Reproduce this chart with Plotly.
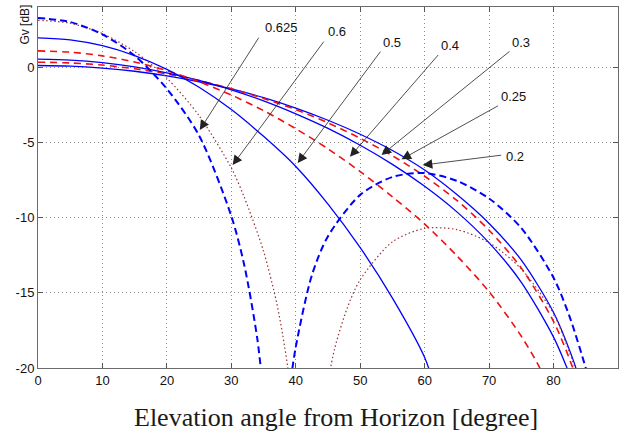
import plotly.graph_objects as go

# Elevation angle samples (deg) and gain values (dB) for each height ratio
ang_0625_a = [0, 5, 10, 15, 20, 25, 30, 32, 34, 35]
gv_0625_a = [3.27, 3.00, 2.18, 0.76, -1.44, -4.55, -9.90, -13.15, -17.97, -21.8]
ang_0625_b = [39, 40, 42.5, 45, 50, 55, 60, 65, 70, 75, 80, 82.5, 85, 86]
gv_0625_b = [-21.5, -18.6, -13.83, -11.24, -8.49, -7.30, -7.04, -7.56, -8.73, -10.7, -14.0, -16.6, -20.0, -21.5]

ang_06_a = [0, 5, 10, 15, 20, 25, 30, 32, 35, 37, 38, 39, 39.5]
gv_06_a = [3.12, 2.92, 2.23, 1.03, -0.73, -3.23, -6.70, -8.64, -12.24, -15.6, -17.87, -20.68, -22.5]
ang_06_b = [45, 46, 48, 50, 55, 60, 65, 70, 75, 80, 82, 84]
gv_06_b = [-20.93, -18.76, -15.99, -14.13, -11.61, -10.72, -10.80, -11.67, -13.42, -16.39, -18.42, -20.8]

ang_05 = [0, 5, 10, 15, 20, 25, 30, 35, 40, 45, 50, 55, 60, 61.5]
gv_05 = [1.95, 1.82, 1.43, 0.77, -0.15, -1.34, -2.82, -4.60, -6.60, -9.10, -12.0, -15.35, -19.3, -21.2]

ang_04 = [0, 5, 10, 15, 20, 25, 30, 35, 40, 45, 50, 55, 60, 65, 70, 75, 78, 79]
gv_04 = [1.08, 1.00, 0.75, 0.34, -0.23, -0.97, -1.85, -2.89, -4.09, -5.43, -6.94, -8.62, -10.43, -12.54, -14.93, -17.89, -20.12, -21.3]

ang_03 = [0, 5, 10, 15, 20, 25, 30, 35, 40, 45, 50, 55, 60, 65, 70, 75, 80, 82, 83]
gv_03 = [0.53, 0.47, 0.30, 0.02, -0.38, -0.88, -1.51, -2.24, -3.10, -4.07, -5.19, -6.46, -7.92, -9.62, -11.68, -14.30, -17.95, -19.90, -21.0]

ang_025 = [0, 5, 10, 15, 20, 25, 30, 35, 40, 45, 50, 55, 60, 65, 70, 75, 80, 83, 84]
gv_025 = [0.33, 0.28, 0.14, -0.11, -0.45, -0.89, -1.43, -2.08, -2.82, -3.70, -4.73, -5.89, -7.25, -8.86, -10.84, -13.36, -16.91, -20.02, -21.5]

ang_02 = [0, 5, 10, 15, 20, 25, 30, 35, 40, 45, 50, 55, 60, 65, 70, 75, 80, 83, 84]
gv_02 = [0.11, 0.07, -0.06, -0.27, -0.58, -0.97, -1.45, -2.03, -2.72, -3.53, -4.46, -5.54, -6.84, -8.47, -10.39, -12.83, -16.31, -19.41, -20.74]

x_ticks = [0, 10, 20, 30, 40, 50, 60, 70, 80, 90]
y_ticks = [0, -5, -10, -15, -20]

# Callouts: label, arrow tip (x, y), arrow tail (x, y), label centre (x, y)
callout_labels = ["0.625", "0.6", "0.5", "0.4", "0.3", "0.25", "0.2"]
callout_tips = [(25.1, -4.18), (30.2, -6.51), (40.3, -6.37), (48.4, -5.96),
                (53.3, -5.84), (56.4, -6.13), (59.7, -6.51)]
callout_tails = [(34.4, 2.06), (44.5, 1.79), (53.3, 1.13), (62.3, 0.91),
                 (73.4, 1.13), (71.6, -2.52), (72.1, -5.84)]
callout_text_pos = [(37.8, 2.62), (46.4, 2.39), (55.0, 1.66), (64.0, 1.46),
                    (75.0, 1.66), (73.8, -1.93), (74.0, -5.91)]

BLUE = "#0000ff"
RED = "#f01010"
BROWN = "#993333"

fig = go.Figure()

def add_curve(xs, ys, color, width, dash):
    fig.add_trace(go.Scatter(
        x=xs, y=ys, mode="lines",
        line=dict(color=color, width=width, dash=dash, shape="spline", smoothing=0.8),
        showlegend=False, hoverinfo="skip",
    ))

add_curve(ang_02, gv_02, BLUE, 1.3, "solid")
add_curve(ang_025, gv_025, RED, 1.6, "7px,5px")
add_curve(ang_03, gv_03, BLUE, 1.3, "solid")
add_curve(ang_04, gv_04, RED, 1.6, "7px,5px")
add_curve(ang_05, gv_05, BLUE, 1.3, "solid")
add_curve(ang_06_a, gv_06_a, BROWN, 1.2, "1.5px,2.5px")
add_curve(ang_06_b, gv_06_b, BROWN, 1.2, "1.5px,2.5px")
add_curve(ang_0625_a, gv_0625_a, BLUE, 2.0, "7px,4px")
add_curve(ang_0625_b, gv_0625_b, BLUE, 2.0, "7px,4px")

for lab, tip, tail, pos in zip(callout_labels, callout_tips, callout_tails, callout_text_pos):
    fig.add_annotation(
        x=tip[0], y=tip[1], ax=tail[0], ay=tail[1],
        xref="x", yref="y", axref="x", ayref="y",
        text="", showarrow=True, arrowhead=2, arrowsize=2.4,
        arrowwidth=0.8, arrowcolor="#222222", standoff=0, startstandoff=0,
    )
    fig.add_annotation(
        x=pos[0], y=pos[1], xref="x", yref="y", text=lab, showarrow=False,
        xanchor="center", yanchor="middle",
        font=dict(family="Liberation Sans", size=13, color="#111111"),
    )

fig.add_annotation(
    x=-0.022, y=0.952, xref="paper", yref="paper", text="Gv [dB]",
    textangle=-90, showarrow=False, xanchor="center", yanchor="middle",
    font=dict(family="Liberation Sans", size=12, color="#111111"),
)
fig.add_annotation(
    x=0.513, y=-0.136, xref="paper", yref="paper",
    text="Elevation angle from Horizon [degree]", showarrow=False,
    xanchor="center", yanchor="middle",
    font=dict(family="Liberation Serif", size=26, color="#1a1a1a"),
)

axis_common = dict(
    showgrid=True, gridcolor="#8c8c8c", griddash="1px,3px", gridwidth=1,
    showline=True, linecolor="#6a6a6a", linewidth=1, mirror="ticks",
    ticks="inside", ticklen=5, tickcolor="#555555", zeroline=False,
    tickfont=dict(family="Liberation Sans", size=13, color="#111111"),
)

fig.update_xaxes(range=[0, 90], tickvals=x_ticks, ticktext=[str(v) for v in x_ticks], **axis_common)
fig.update_yaxes(range=[-20, 4], tickvals=y_ticks, ticktext=[str(v) for v in y_ticks], **axis_common)

fig.update_layout(
    width=622, height=434,
    margin=dict(l=38, r=3.5, t=7, b=66),
    plot_bgcolor="white", paper_bgcolor="white",
)

fig.write_html("out.html")
